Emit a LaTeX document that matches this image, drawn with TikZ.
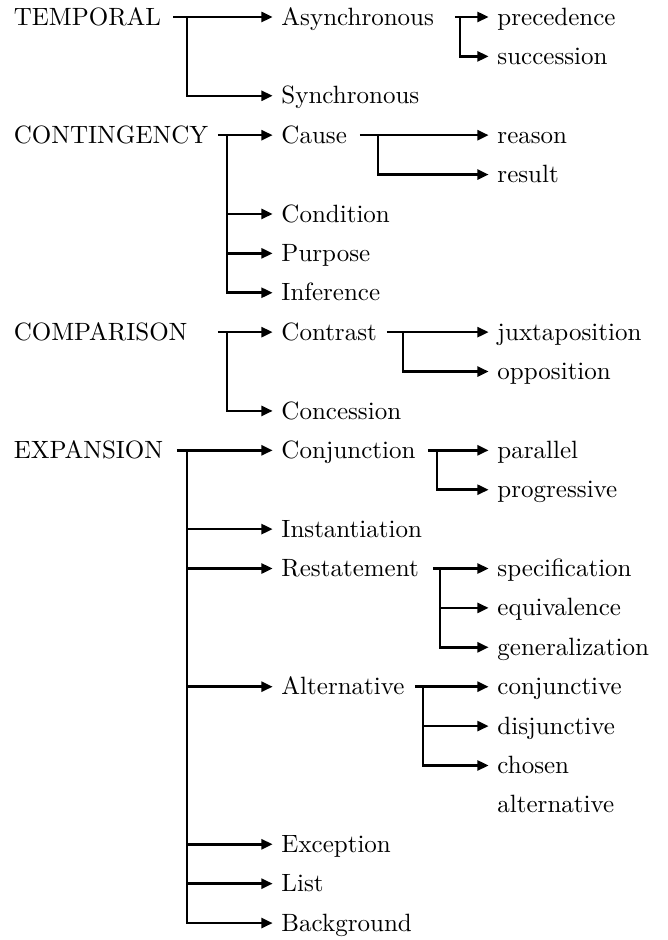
\documentclass[tikz,border=0pt]{standalone}
\usepackage{tikz}
\usetikzlibrary{arrows.meta}

\begin{document}
\begin{tikzpicture}[
				y=-0.5538cm,
				term/.style={anchor=west, inner sep=3.33pt, text height=1.5ex, text depth=0pt},
				arrow/.style={-{Triangle[length=4.5pt, width=4pt]}, line width=1pt, color=black}
				]
				\useasboundingbox (0,-0.431) rectangle (9.389,23.43);

				% top level
				\node[term] (temporal) at (0.07,0) {TEMPORAL};
				\node[term] (conting) at (0.07,3) {CONTINGENCY};
				\node[term] (compar) at (0.07,8) {COMPARISON};
				\node[term] (expan) at (0.07,11) {EXPANSION};

				% second level
				\node[term] (async) at (3.833,0) {Asynchronous};
				\node[term] (sync) at (3.833,2) {Synchronous};
				\node[term] (cause) at (3.833,3) {Cause};
				\node[term] (cond) at (3.833,5) {Condition};
				\node[term] (purpose) at (3.833,6) {Purpose};
				\node[term] (infer) at (3.833,7) {Inference};
				\node[term] (contrast) at (3.833,8) {Contrast};
				\node[term] (conces) at (3.833,10) {Concession};
				\node[term] (conj) at (3.833,11) {Conjunction};
				\node[term] (inst) at (3.833,13) {Instantiation};
				\node[term] (restat) at (3.833,14) {Restatement};
				\node[term] (alt) at (3.833,17) {Alternative};
				\node[term] (except) at (3.833,21) {Exception};
				\node[term] (list) at (3.833,22) {List};
				\node[term] (backgr) at (3.833,23) {Background};

				% third level
				\node[term] (preced) at (6.869,0) {precedence};
				\node[term] (succ) at (6.869,1) {succession};
				\node[term] (reason) at (6.869,3) {reason};
				\node[term] (result) at (6.869,4) {result};
				\node[term] (juxta) at (6.869,8) {juxtaposition};
				\node[term] (oppos) at (6.869,9) {opposition};
				\node[term] (parallel) at (6.869,11) {parallel};
				\node[term] (progr) at (6.869,12) {progressive};
				\node[term] (spec) at (6.869,14) {specification};
				\node[term] (equiv) at (6.869,15) {equivalence};
				\node[term] (gener) at (6.869,16) {generalization};
				\node[term] (conjv) at (6.869,17) {conjunctive};
				\node[term] (disjv) at (6.869,18) {disjunctive};
				\node[term] (chosen) at (6.869,19) {chosen};
				\node[term] (chosenb) at (6.869,20) {alternative};

				% branch points
				\coordinate (temporal-s) at (2.432,0);
				\coordinate (temporal-v) at (2.628,0);
				\coordinate (conting-s) at (3.064,3);
				\coordinate (conting-v) at (3.191,3);
				\coordinate (compar-s) at (3.064,8);
				\coordinate (compar-v) at (3.191,8);
				\coordinate (expan-s) at (2.488,11);
				\coordinate (expan-v) at (2.628,11);
				\coordinate (async-s) at (6.395,0);
				\coordinate (async-v) at (6.466,0);
				\coordinate (cause-s) at (5.060,3);
				\coordinate (cause-v) at (5.313,3);
				\coordinate (contrast-s) at (5.440,8);
				\coordinate (contrast-v) at (5.665,8);
				\coordinate (conj-s) at (6.016,11);
				\coordinate (conj-v) at (6.142,11);
				\coordinate (restat-s) at (6.086,14);
				\coordinate (restat-v) at (6.185,14);
				\coordinate (alt-s) at (5.833,17);
				\coordinate (alt-v) at (5.946,17);

				\draw[arrow] (temporal-s) -- (async.west);
				\draw[arrow] (temporal-v) |- (sync.west);
				\draw[arrow] (async-s) -- (preced.west);
				\draw[arrow] (async-v) |- (succ.west);

				\draw[arrow] (conting-s) -- (cause.west);
				\draw[arrow] (conting-v) |- (cond.west);
				\draw[arrow] (conting-v) |- (purpose.west);
				\draw[arrow] (conting-v) |- (infer.west);
				\draw[arrow] (cause-s) -- (reason.west);
				\draw[arrow] (cause-v) |- (result.west);

				\draw[arrow] (compar-s) -- (contrast.west);
				\draw[arrow] (compar-v) |- (conces.west);
				\draw[arrow] (contrast-s) -- (juxta.west);
				\draw[arrow] (contrast-v) |- (oppos.west);

				\draw[arrow] (expan-s) -- (conj.west);
				\draw[arrow] (expan-v) |- (inst.west);
				\draw[arrow] (expan-v) |- (restat.west);
				\draw[arrow] (expan-v) |- (alt.west);
				\draw[arrow] (expan-v) |- (except.west);
				\draw[arrow] (expan-v) |- (list.west);
				\draw[arrow] (expan-v) |- (backgr.west);
				\draw[arrow] (conj-s) -- (parallel.west);
				\draw[arrow] (conj-v) |- (progr.west);
				\draw[arrow] (restat-s) -- (spec.west);
				\draw[arrow] (restat-v) |- (equiv.west);
				\draw[arrow] (restat-v) |- (gener.west);
				\draw[arrow] (alt-s) -- (conjv.west);
				\draw[arrow] (alt-v) |- (disjv.west);
				\draw[arrow] (alt-v) |- (chosen.west);
			\end{tikzpicture}
\end{document}
